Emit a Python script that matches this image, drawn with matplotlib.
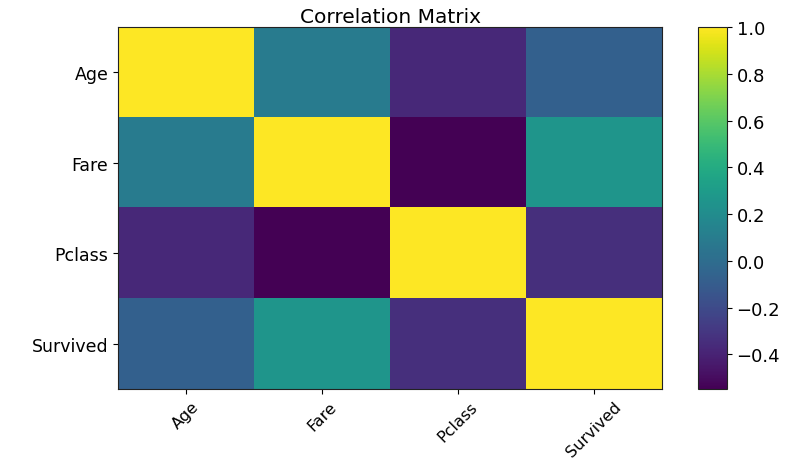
import matplotlib
matplotlib.use("Agg")
import matplotlib.pyplot as plt
import numpy as np

labels = ["Age", "Fare", "Pclass", "Survived"]
row_age = [1.0, 0.096, -0.369, -0.077]
row_fare = [0.096, 1.0, -0.549, 0.257]
row_pclass = [-0.369, -0.549, 1.0, -0.338]
row_survived = [-0.077, 0.257, -0.338, 1.0]

corr = np.array([row_age, row_fare, row_pclass, row_survived])

fig = plt.figure(figsize=(8, 4.6), dpi=100)
ax = fig.add_axes([0.1475, 0.152, 0.68, 0.787])
cax = fig.add_axes([0.8725, 0.152, 0.036, 0.787])

im = ax.imshow(corr, cmap="viridis", aspect="auto", interpolation="nearest")
cb = fig.colorbar(im, cax=cax)
cb.set_ticks([1.0, 0.8, 0.6, 0.4, 0.2, 0.0, -0.2, -0.4])
cb.ax.tick_params(labelsize=13)

for a in (ax, cax):
    for s in a.spines.values():
        s.set_edgecolor("#222222")

ax.set_xticks(range(len(labels)))
ax.set_xticklabels(labels, rotation=45, fontsize=11.5)
ax.set_yticks(range(len(labels)))
ax.set_yticklabels(labels, fontsize=12.5)
ax.set_title("Correlation Matrix", fontsize=14.5, pad=4)

fig.savefig("out.png", dpi=100)
